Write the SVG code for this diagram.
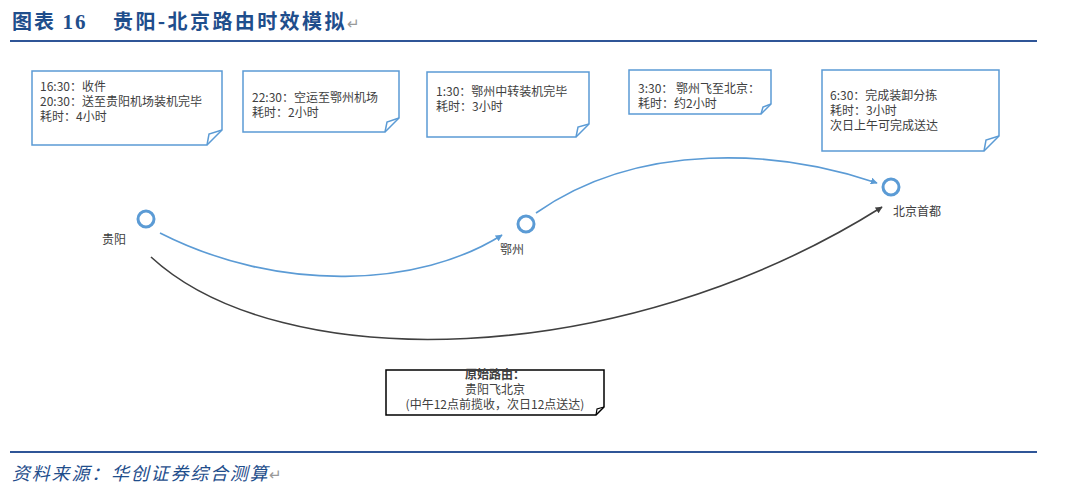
<svg xmlns="http://www.w3.org/2000/svg" width="1080" height="499" viewBox="0 0 1080 499">
<style>
.note{fill:#fff;stroke:#5b9bd5;stroke-width:1.5}
.fold{fill:none;stroke:#5b9bd5;stroke-width:1.5}
.t{font-family:"Noto Sans CJK SC","Liberation Sans",sans-serif;font-size:12px;fill:#404040}
.lbl{font-family:"Noto Sans CJK SC","Liberation Sans",sans-serif;font-size:12px;fill:#404040}
.node{fill:#fff;stroke:#5b9bd5;stroke-width:3}
.blue{fill:none;stroke:#5b9bd5;stroke-width:1.6}
.gray{fill:none;stroke:#404040;stroke-width:1.6}
</style>
<defs>
<marker id="ab" viewBox="0 0 10 10" refX="9" refY="5" markerWidth="7" markerHeight="7" orient="auto" markerUnits="userSpaceOnUse"><path d="M0,0 L10,5 L0,10 Z" fill="#5b9bd5"/></marker>
<marker id="ag" viewBox="0 0 10 10" refX="9" refY="5" markerWidth="7" markerHeight="7" orient="auto" markerUnits="userSpaceOnUse"><path d="M0,0 L10,5 L0,10 Z" fill="#404040"/></marker>
</defs>
<rect width="1080" height="499" fill="#fff"/>
<g id="title">
<text x="12" y="29" font-family="'Noto Sans CJK SC',sans-serif" font-weight="bold" font-size="20" letter-spacing="2" fill="#1f4e8c">图表 <tspan font-family="'Liberation Serif',serif" font-size="21">16</tspan></text>
<text x="113" y="29" font-family="'Noto Sans CJK SC',sans-serif" font-weight="bold" font-size="20" letter-spacing="2.4" fill="#1f4e8c">贵阳-北京路由时效模拟<tspan fill="#999" font-weight="normal" font-size="15" letter-spacing="0">↵</tspan></text>
<line x1="10" y1="41" x2="1037" y2="41" stroke="#2f5597" stroke-width="2"/>
</g>
<g id="connectors">
<path class="blue" d="M160,233 C280,294 420,287 502,235" marker-end="url(#ab)"/>
<path class="blue" d="M536,213 C640,140 780,150 877,183" marker-end="url(#ab)"/>
<path class="gray" d="M151,257 C280,376 620,372 882,207" marker-end="url(#ag)"/>
</g>
<g id="note1">
<path class="note" d="M32,71 H222 V130 L207,145 H32 Z"/>
<path class="fold" d="M207,145 L209,134 L222,130"/>
<text class="t" x="40" y="91">16:30：收件</text>
<text class="t" x="40" y="106">20:30：送至贵阳机场装机完毕</text>
<text class="t" x="40" y="121">耗时：4小时</text>
</g>
<g id="note2">
<path class="note" d="M243,71 H399 V118 L385,132 H243 Z"/>
<path class="fold" d="M385,132 L387,122 L399,118"/>
<text class="t" x="252" y="102">22:30：空运至鄂州机场</text>
<text class="t" x="252" y="117">耗时：2小时</text>
</g>
<g id="note3">
<path class="note" d="M427,72 H589 V124 L576,137 H427 Z"/>
<path class="fold" d="M576,137 L578,127 L589,124"/>
<text class="t" x="436" y="96">1:30：鄂州中转装机完毕</text>
<text class="t" x="436" y="111">耗时：3小时</text>
</g>
<g id="note4">
<path class="note" d="M629,70 H771 V104 L761,114 H629 Z"/>
<path class="fold" d="M761,114 L763,107 L771,104"/>
<text class="t" x="638" y="93">3:30： 鄂州飞至北京：</text>
<text class="t" x="638" y="108">耗时：约2小时</text>
</g>
<g id="note5">
<path class="note" d="M822,70 H999 V136 L984,151 H822 Z"/>
<path class="fold" d="M984,151 L986,140 L999,136"/>
<text class="t" x="830" y="100">6:30：完成装卸分拣</text>
<text class="t" x="830" y="115">耗时：3小时</text>
<text class="t" x="830" y="130">次日上午可完成送达</text>
</g>
<g id="guiyang">
<circle class="node" cx="146" cy="219" r="8"/>
<text class="lbl" x="102" y="244">贵阳</text>
</g>
<g id="ezhou">
<circle class="node" cx="526" cy="224" r="8"/>
<text class="lbl" x="500" y="254">鄂州</text>
</g>
<g id="beijing">
<circle class="node" cx="891" cy="187" r="8"/>
<text class="lbl" x="893" y="216">北京首都</text>
</g>
<g id="note6">
<path d="M386,370 H604 V407 L596,415 H386 Z" fill="#fff" stroke="#000" stroke-width="1.5"/>
<path d="M596,415 L597,409 L604,407" fill="none" stroke="#000" stroke-width="1.2"/>
<text class="lbl" x="495" y="379" text-anchor="middle" font-weight="bold" font-size="11.5" fill="#000">原始路由：</text>
<text class="lbl" x="495" y="394" text-anchor="middle" font-size="11.5" fill="#000">贵阳飞北京</text>
<text class="lbl" x="495" y="409" text-anchor="middle" font-size="11.5" fill="#000">(中午12点前揽收，次日12点送达)</text>
</g>
<g id="footer">
<line x1="10" y1="452" x2="1037" y2="452" stroke="#2f5597" stroke-width="2"/>
<text x="12" y="480" font-family="'Noto Sans CJK SC',sans-serif" font-style="italic" font-size="18" letter-spacing="1.8" fill="#1f4e8c">资料来源：华创证券综合测算<tspan fill="#999" font-style="normal" font-size="15" letter-spacing="0">↵</tspan></text>
</g>
</svg>
